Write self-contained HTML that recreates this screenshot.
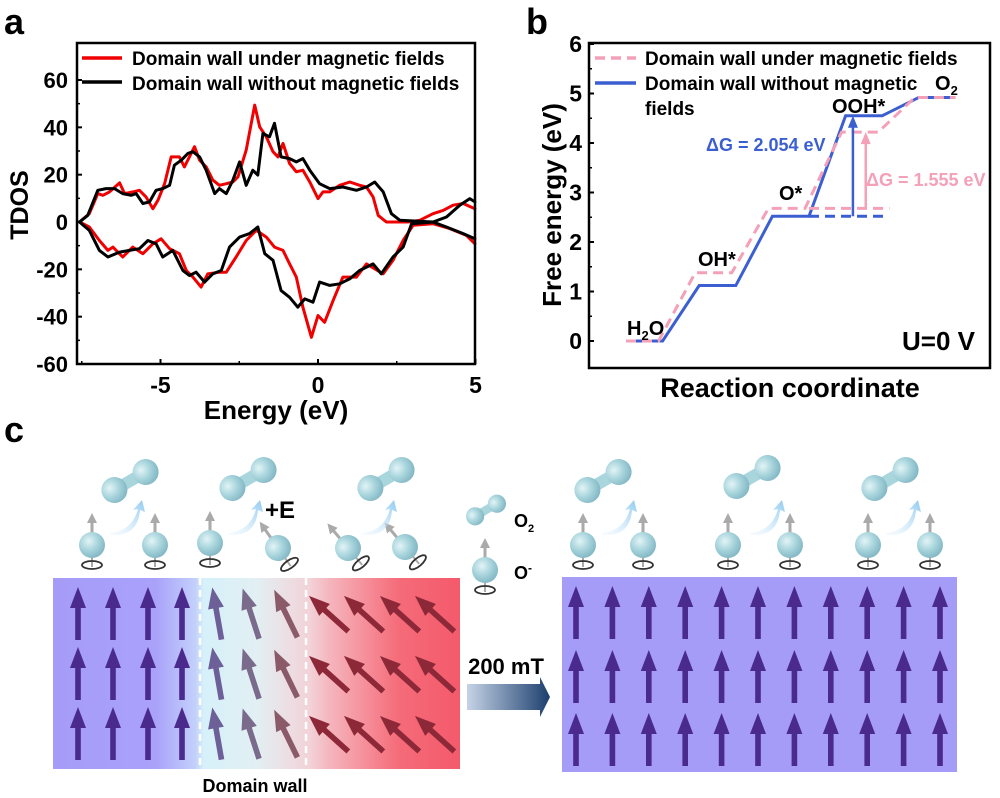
<!DOCTYPE html>
<html><head><meta charset="utf-8"><style>
html,body{margin:0;padding:0;background:#fff}
svg{display:block;font-family:"Liberation Sans",Arial,sans-serif}
</style></head><body>
<svg id="fig" width="1000" height="798" viewBox="0 0 1000 798">
<defs>
<radialGradient id="ball" cx="0.38" cy="0.35" r="0.7"><stop offset="0" stop-color="#e2f4f6"/><stop offset="0.5" stop-color="#a9d5dd"/><stop offset="1" stop-color="#7fb5c2"/></radialGradient>
<linearGradient id="leftbg" x1="0" x2="1" y1="0" y2="0">
<stop offset="0" stop-color="#a59cf8"/><stop offset="0.25" stop-color="#a9a1fa"/><stop offset="0.35" stop-color="#c3d0fb"/><stop offset="0.37" stop-color="#d6f1fa"/><stop offset="0.5" stop-color="#e2eff3"/><stop offset="0.63" stop-color="#f2d3d8"/><stop offset="0.68" stop-color="#f5b5bd"/><stop offset="0.85" stop-color="#f56b79"/><stop offset="1" stop-color="#f45a6b"/></linearGradient>
<linearGradient id="mt" x1="0" x2="1"><stop offset="0" stop-color="#c5d3e6"/><stop offset="1" stop-color="#1c3f6e"/></linearGradient>
<linearGradient id="curv" x1="0" x2="1" y1="1" y2="0"><stop offset="0" stop-color="#e6f4fd" stop-opacity="0.3"/><stop offset="1" stop-color="#8fcaf0"/></linearGradient>
</defs>

<text x="4" y="34" font-size="36" font-weight="bold">a</text>
<g id="pa"></g>
<text x="526" y="34" font-size="36" font-weight="bold">b</text>
<g id="pb"></g>
<text x="4" y="442" font-size="36" font-weight="bold">c</text>
<g id="pc"></g>
</svg>
<script>
// ---------- Panel a data ----------
const upRedE=[-7.57,-7.26,-6.99,-6.83,-6.62,-6.30,-6.14,-5.88,-5.67,-5.46,-5.24,-5.08,-4.87,-4.66,-4.40,-4.24,-4.03,-3.92,-3.76,-3.55,-3.34,-3.13,-2.91,-2.70,-2.54,-2.28,-2.01,-1.85,-1.64,-1.43,-1.27,-1.11,-0.90,-0.69,-0.48,-0.26,0,0.16,0.37,0.69,1.01,1.32,1.54,1.75,1.91,2.17,2.86,3.23,3.65,3.97,4.29,4.61,4.98];
const upRedV=[0,3.5,12,11.3,12.7,16.5,12,12.7,13.4,10.6,5.6,9.2,16.2,27.5,27.5,23.3,28.9,31.8,26.1,23.3,17.7,15.5,16.2,16.9,19.1,30.4,49.4,40.2,36,29.7,27.5,33.2,24.7,21.2,21.9,16.9,9.9,12.7,12.7,15.5,16.9,15.5,14.8,10.6,2.8,0,0,0.7,3.5,4.9,7.1,7.8,5.6];
const upBlkE=[-7.57,-7.31,-6.99,-6.73,-6.46,-6.20,-5.93,-5.77,-5.56,-5.35,-5.14,-4.93,-4.71,-4.56,-4.34,-4.13,-3.97,-3.76,-3.55,-3.28,-3.13,-2.91,-2.70,-2.49,-2.28,-2.07,-1.91,-1.75,-1.54,-1.38,-1.17,-0.90,-0.69,-0.48,-0.26,0.05,0.37,0.79,1.22,1.54,1.80,2.07,2.33,2.60,3.65,4.08,4.50,4.82,4.98];
const upBlkV=[0,2.8,13.4,14.1,14.1,12,11.3,12,7.8,8.5,13.4,14.1,15.5,24,26.1,29,29.7,27.5,21.9,12,14.1,12,17.7,25.4,15.5,21.9,19.8,37.4,36,41.7,27.5,26.8,25.4,26.8,21.9,16.2,14.1,14.8,13.4,14.8,16.9,12.7,3.5,0.7,0,2.1,7.1,9.9,8.5];
const dnRedE=[-7.57,-7.26,-6.94,-6.67,-6.51,-6.20,-5.88,-5.56,-5.24,-4.98,-4.71,-4.40,-4.18,-3.97,-3.71,-3.50,-3.13,-2.91,-2.60,-2.28,-1.96,-1.64,-1.38,-1.11,-0.90,-0.69,-0.48,-0.21,0,0.21,0.48,0.79,1.22,1.54,2.07,2.38,2.70,3.02,3.65,4.18,4.71,4.98];
const dnRedV=[0,-2.1,-7.8,-12,-10.6,-14.8,-10.6,-13.4,-9.2,-7.1,-11.3,-13.4,-20.5,-23.3,-27.5,-21.9,-21.2,-21.2,-14.8,-7.8,-3.5,-6.4,-10.6,-12,-17.7,-23.3,-36,-48.7,-39.5,-42.4,-33.2,-23.3,-23.3,-17.7,-21.9,-16.2,-7.8,-1.4,-0.7,-2.8,-5.6,-9.2];
const dnBlkE=[-7.57,-7.26,-6.94,-6.67,-6.30,-5.99,-5.67,-5.40,-5.14,-4.93,-4.61,-4.29,-4.08,-3.87,-3.60,-3.34,-3.07,-2.81,-2.49,-2.17,-1.91,-1.69,-1.43,-1.17,-0.90,-0.64,-0.42,-0.16,0.05,0.37,0.69,1.01,1.32,1.75,2.01,2.38,2.70,2.97,3.65,4.08,4.61,4.98];
const dnBlkV=[0,-3.5,-12,-14.8,-12.7,-12,-11.3,-7.8,-9.2,-14.8,-12,-20.5,-22.6,-21.2,-25.4,-21.9,-20.5,-10.6,-6.4,-4.9,-2.1,-13.4,-16.2,-29,-31.8,-36,-32.5,-33.9,-25.4,-26.8,-26.1,-24,-20.5,-17.7,-21.9,-14.8,-10.6,-0.7,0,-2.1,-4.9,-7.1];
const aYTicks=[60,40,20,0,-20,-40,-60];
const aXTicks=[-5,0,5];
// ---------- Panel b data ----------
const stepNames=["H2O","OH*","O*","OOH*","O2"];
const blueLevels=[0,1.12,2.52,4.55,4.92];
const pinkLevels=[0,1.38,2.68,4.22,4.92];
const bYTicks=[0,1,2,3,4,5,6];

const NS="http://www.w3.org/2000/svg";
function mk(tag,attrs,parent){const e=document.createElementNS(NS,tag);for(const k in attrs)e.setAttribute(k,attrs[k]);parent.appendChild(e);return e;}

// ===== Panel a =====
(function(){
const g=document.getElementById('pa');
const X0=77,X1=475,Y0=43,Y1=364;
const xs=e=>318+e*31.5;
const ys=v=>222-v*(284/120);
function line(E,V,col,name){
  const p=mk('polyline',{points:E.map((e,i)=>xs(e).toFixed(1)+','+ys(V[i]).toFixed(1)).join(' '),fill:'none',stroke:col,'stroke-width':3,'stroke-linejoin':'round','stroke-linecap':'round'},g);
  
  
}
line(upRedE,upRedV,'#f00000','red-spin-up-line');
line(dnRedE,dnRedV,'#f00000','red-spin-down-line');
line(upBlkE,upBlkV,'#000','black-spin-up-line');
line(dnBlkE,dnBlkV,'#000','black-spin-down-line');
const fr=mk('rect',{x:X0,y:Y0,width:X1-X0,height:Y1-Y0,fill:'none',stroke:'#000','stroke-width':2.5},g);


aYTicks.forEach(v=>{
  mk('line',{x1:X0,x2:X0+5,y1:ys(v),y2:ys(v),stroke:'#000','stroke-width':2},g);
  const t=mk('text',{x:68,y:ys(v)+8,'font-size':22,'font-weight':'bold','text-anchor':'end'},g);t.textContent=v;
  
  
});
for(let v=-50;v<=50;v+=20){mk('line',{x1:X0,x2:X0+3,y1:ys(v),y2:ys(v),stroke:'#000','stroke-width':1.5},g);}
aXTicks.forEach(v=>{
  mk('line',{x1:xs(v),x2:xs(v),y1:Y1,y2:Y1-5,stroke:'#000','stroke-width':2},g);
  const t=mk('text',{x:xs(v),y:393,'font-size':23,'font-weight':'bold','text-anchor':'middle'},g);t.textContent=v;
  
  
});
[-7.5,-2.5,2.5].forEach(v=>mk('line',{x1:xs(v),x2:xs(v),y1:Y1,y2:Y1-3,stroke:'#000','stroke-width':1.5},g));
let t=mk('text',{x:276,y:419,'font-size':26,'font-weight':'bold','text-anchor':'middle'},g);t.textContent='Energy (eV)';

t=mk('text',{x:0,y:0,'font-size':25,'font-weight':'bold','text-anchor':'middle',transform:'translate(28,205) rotate(-90)'},g);t.textContent='TDOS';

mk('line',{x1:82,x2:122,y1:58,y2:58,stroke:'#f00000','stroke-width':3.5},g);
t=mk('text',{x:132,y:65,'font-size':19,'font-weight':'bold'},g);t.textContent='Domain wall under magnetic fields';

mk('line',{x1:82,x2:122,y1:82,y2:82,stroke:'#000','stroke-width':3.5},g);
t=mk('text',{x:132,y:90,'font-size':19,'font-weight':'bold'},g);t.textContent='Domain wall without magnetic fields';

})();

// ===== Panel b =====
(function(){
const g=document.getElementById('pb');
const X0=589,X1=990,Y0=43,Y1=368;
const ys=v=>341-v*49.5;
const xc=c=>626+c*36.6;
function steps(L,dx){const pts=[];L.forEach((v,i)=>{pts.push(xc(2*i)+(i?dx:0)+','+ys(v));pts.push(xc(2*i+1)+(i<L.length-1?dx:0)+','+ys(v));});return pts.join(' ');}
let p=mk('polyline',{points:steps(blueLevels,0),fill:'none',stroke:'#3b5fd0','stroke-width':3},g);

p=mk('polyline',{points:steps(pinkLevels,-4),fill:'none',stroke:'#f4a0b8','stroke-width':3,'stroke-dasharray':'10,6'},g);

mk('line',{x1:xc(5),x2:xc(7.1),y1:ys(blueLevels[2]),y2:ys(blueLevels[2]),stroke:'#3b5fd0','stroke-width':3,'stroke-dasharray':'10,6'},g);
mk('line',{x1:xc(5),x2:xc(7.2),y1:ys(pinkLevels[2]),y2:ys(pinkLevels[2]),stroke:'#f4a0b8','stroke-width':3,'stroke-dasharray':'10,6'},g);
function arrow(x,a,b,col,name){
  const l=mk('line',{x1:x,x2:x,y1:ys(a),y2:ys(b)+10,stroke:col,'stroke-width':2.5},g);
  
  mk('polygon',{points:`${x-5},${ys(b)+12} ${x+5},${ys(b)+12} ${x},${ys(b)}`,fill:col},g);
}
arrow(xc(6.2),blueLevels[2],blueLevels[3],'#3b5fd0','blue-dg-arrow');
arrow(xc(6.55),pinkLevels[2],pinkLevels[3],'#f4a0b8','pink-dg-arrow');
const fr=mk('rect',{x:X0,y:Y0,width:X1-X0,height:Y1-Y0,fill:'none',stroke:'#000','stroke-width':2.5},g);

bYTicks.forEach(v=>{
  mk('line',{x1:X0,x2:X0+5,y1:ys(v),y2:ys(v),stroke:'#000','stroke-width':2},g);
  const t=mk('text',{x:582,y:ys(v)+8,'font-size':23,'font-weight':'bold','text-anchor':'end'},g);t.textContent=v;
  
});
for(let v=0.5;v<6;v+=1)mk('line',{x1:X0,x2:X0+3,y1:ys(v),y2:ys(v),stroke:'#000','stroke-width':1.5},g);
function txt(x,y,s,size,attrs,name){const t=mk('text',Object.assign({x:x,y:y,'font-size':size,'font-weight':'bold'},attrs||{}),g);t.innerHTML=s;return t;}
txt(790,397,'Reaction coordinate',27,{'text-anchor':'middle'},'x-axis-title');
txt(0,0,'Free energy (eV)',26,{'text-anchor':'middle',transform:'translate(561,205) rotate(-90)'},'y-axis-title');
mk('line',{x1:595,x2:636,y1:58,y2:58,stroke:'#f4a0b8','stroke-width':3.5,'stroke-dasharray':'10,6'},g);
txt(645,65,'Domain wall under magnetic fields',19,{},'legend-entry-pink');
mk('line',{x1:595,x2:636,y1:83,y2:83,stroke:'#3b5fd0','stroke-width':3.5},g);
txt(645,90,'Domain wall without magnetic',19,{},'legend-entry-blue');
txt(645,115,'fields',19,{},'legend-entry-blue-cont');
txt(627,335,'H<tspan font-size="13" dy="5">2</tspan><tspan dy="-5">O</tspan>',20,{},'label-h2o');
txt(698,266,'OH*',20,{},'label-oh');
txt(779,200,'O*',20,{},'label-o');
txt(832,113,'OOH*',20,{},'label-ooh');
txt(935,90,'O<tspan font-size="13" dy="5">2</tspan>',20,{},'label-o2');
txt(706,151,'ΔG = 2.054 eV',18,{fill:'#3b5fd0'},'dg-blue-label');
txt(866,186,'ΔG = 1.555 eV',18,{fill:'#f4a0b8'},'dg-pink-label');
txt(975,350,'U=0 V',26,{'text-anchor':'end'},'potential-label');
})();

// ===== Panel c =====
(function(){
const g=document.getElementById('pc');
function el(tag,a,name){const e=mk(tag,a,g);if(name){}return e;}
el('rect',{x:53,y:578,width:407,height:191,fill:'url(#leftbg)'},'domain-wall-slab');
el('rect',{x:562,y:577,width:395,height:195,fill:'#a59cf8'},'uniform-slab');
el('line',{x1:200,x2:200,y1:578,y2:769,stroke:'#fff','stroke-width':2.5,'stroke-dasharray':'7,5'},'wall-boundary-left');
el('line',{x1:306,x2:306,y1:578,y2:769,stroke:'#fff','stroke-width':2.5,'stroke-dasharray':'7,5'},'wall-boundary-right');
function spin(cx,cy,ang,col){
  const grp=el('g',{transform:`translate(${cx},${cy}) rotate(${ang})`},null);
  
  mk('rect',{x:-2.8,y:-8,width:5.6,height:34,fill:col},grp);
  mk('polygon',{points:'-8,-6 8,-6 0,-27',fill:col},grp);
}
const rowsL=[614,674,734];
rowsL.forEach(cy=>{
  [78,113,148,182].forEach(x=>spin(x,cy,0,'#4a2a8c'));
  [217,251,286].forEach((x,i)=>spin(x,cy,-10-i*8,['#6d5f98','#7a6a8c','#8a5a68'][i]));
  [329,364,400,435].forEach(x=>spin(x,cy,-48,'#8c2838'));
});
const rowsR=[613,677,740];
rowsR.forEach(cy=>{for(let i=0;i<11;i++)spin(576+i*36.4,cy,0,'#4a2a8c');});
function oion(cx,cy,ang){
  const grp=el('g',{transform:`translate(${cx},${cy}) rotate(${ang})`},null);
  
  mk('line',{x1:0,y1:-12,x2:0,y2:-24,stroke:'#aaa','stroke-width':3},grp);
  mk('polygon',{points:'-5,-22 5,-22 0,-32',fill:'#aaa'},grp);
  mk('line',{x1:0,y1:12,x2:0,y2:22,stroke:'#aaa','stroke-width':2},grp);
  mk('circle',{cx:0,cy:0,r:13,fill:'url(#ball)'},grp);
  mk('ellipse',{cx:0,cy:20,rx:10,ry:4,fill:'none',stroke:'#333','stroke-width':1.8},grp);
}
function o2(cx,cy,s){
  s=s||1;
  const grp=el('g',{transform:`translate(${cx},${cy}) rotate(-30) scale(${s})`},null);
  
  mk('rect',{x:-16,y:-6,width:32,height:12,fill:'#a9d5dd'},grp);
  mk('circle',{cx:-18,cy:0,r:13,fill:'url(#ball)'},grp);
  mk('circle',{cx:18,cy:0,r:13,fill:'url(#ball)'},grp);
}
function curve(x,y){el('path',{d:`M${x},${y} Q${x+22},${y-2} ${x+28},${y-24} l-5,1 l9,-10 l3,12 l-5,-2 Q${x+28},${y+4} ${x},${y+2}Z`,fill:'url(#curv)'},'release-arrow');}
oion(92,545,0);oion(155,545,0);oion(210,543,0);oion(278,548,-35);oion(348,548,-40);oion(405,547,-40);
o2(130,481);o2(248,479);o2(386,479);
curve(110,533);curve(228,533);curve(362,533);
[583,643,728,790,868,930].forEach(x=>oion(x,545,0));
o2(603,481);o2(752,477);o2(890,479);
curve(602,533);curve(750,533);curve(886,533);
o2(486,510,0.7);oion(485,570,0);
let t=el('text',{x:514,y:527,'font-size':18,'font-weight':'bold'},'legend-o2');t.innerHTML='O<tspan font-size="11" dy="5">2</tspan>';
t=el('text',{x:514,y:579,'font-size':18,'font-weight':'bold'},'legend-o-ion');t.innerHTML='O<tspan font-size="12" dy="-7">-</tspan>';
t=el('text',{x:265,y:518,'font-size':24,'font-weight':'bold'},'electric-field-label');t.textContent='+E';
t=el('text',{x:255,y:792,'font-size':18,'font-weight':'bold','text-anchor':'middle'},'domain-wall-label');t.textContent='Domain wall';
t=el('text',{x:506,y:674,'font-size':22,'font-weight':'bold','text-anchor':'middle'},'field-strength-label');t.textContent='200 mT';
el('polygon',{points:'467,684 540,684 540,677 550,697 540,717 540,710 467,710',fill:'url(#mt)'},'magnetic-field-arrow');
})();
</script>
</body></html>
